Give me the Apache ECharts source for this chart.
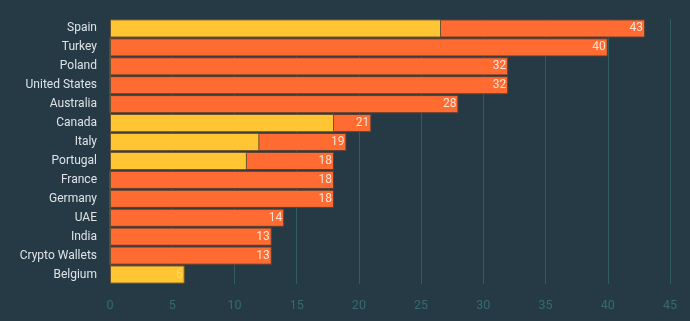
<!DOCTYPE html>
<html>
<head>
<meta charset="utf-8">
<script src="https://cdn.jsdelivr.net/npm/echarts@6/dist/echarts.min.js"></script>
<style>
html,body{margin:0;padding:0;background:#253a45;}
#chart{width:690px;height:321px;}
</style>
</head>
<body>
<div id="chart"></div>
<script>
const categories = ['Spain','Turkey','Poland','United States','Australia','Canada','Italy','Portugal','France','Germany','UAE','India','Crypto Wallets','Belgium'];
const totals = [43,40,32,32,28,21,19,18,18,18,14,13,13,6];
const yellowPart = [26.6,0,0,0,0,18,12,11,0,0,0,0,0,6];
const xTicks = [0,5,10,15,20,25,30,35,40,45];

const chart = echarts.init(document.getElementById('chart'), null, {renderer:'canvas'});
const font = 'Roboto';
const labelBase = {position:'insideRight',distance:2,fontSize:12,fontFamily:font,padding:[3,0,0,0]};
chart.setOption({
  backgroundColor:'#253a45',
  animation:false,
  grid:{left:110,right:20,top:19,bottom:37,containLabel:false},
  xAxis:{
    type:'value',min:xTicks[0],max:xTicks[xTicks.length-1],interval:5,
    axisLine:{show:false},axisTick:{show:false},
    axisLabel:{color:'#356b6e',fontSize:12.5,fontFamily:font,margin:15},
    splitLine:{lineStyle:{color:'#2f5d62',width:1}}
  },
  yAxis:{
    type:'category',data:categories,inverse:true,
    axisLine:{show:false},axisTick:{show:false},
    axisLabel:{color:'#dfe3e6',fontSize:12,fontFamily:font,margin:13,padding:[3,0,0,0]}
  },
  series:[
    {
      name:'total',type:'bar',
      data:totals.map((v,i)=>({value:v,label:{show: !(yellowPart[i]>=v)}})),
      barCategoryGap:'4%',
      itemStyle:{color:'#ff6b30',borderColor:'#5a4036',borderWidth:1},
      label:Object.assign({show:true,color:'#fbe3d6'},labelBase),
      z:2
    },
    {
      name:'yellow',type:'bar',
      data:yellowPart.map((v,i)=>({value:v,label:{show: v>=totals[i], formatter:String(totals[i])}})),
      barGap:'-100%',barCategoryGap:'4%',
      itemStyle:{color:'#ffc533',borderColor:'#6a5530',borderWidth:1},
      label:Object.assign({show:false,color:'#ffd95c'},labelBase),
      z:3
    }
  ]
});
</script>
</body>
</html>
